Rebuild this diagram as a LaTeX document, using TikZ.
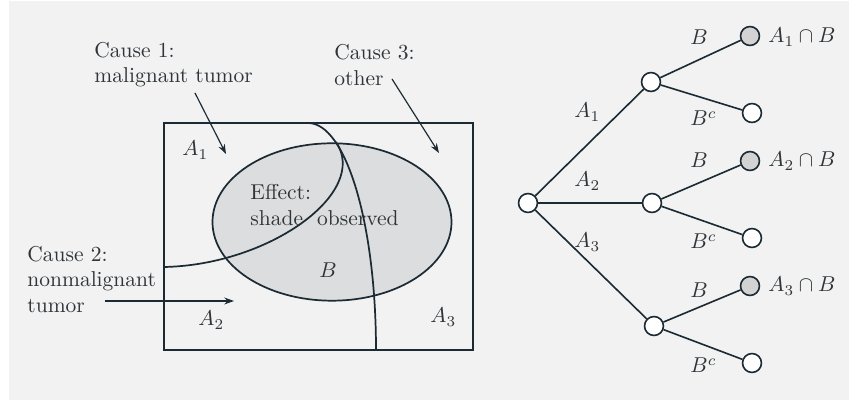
\documentclass[tikz,border=0pt]{standalone}
\usetikzlibrary{arrows.meta}
\definecolor{bgc}{HTML}{F2F2F2}
\definecolor{ink}{HTML}{1B2A33}
\definecolor{txt}{HTML}{2E3438}
\definecolor{shadeB}{HTML}{DCDDDF}
\definecolor{leafB}{HTML}{D3D3D3}
\begin{document}
\begin{tikzpicture}[x=0.465pt,y=-0.465pt,
  lbl/.style={anchor=base west,inner sep=0pt,text=txt,font=\normalsize},
  bound/.style={draw=ink,line width=0.8pt},
  pointer/.style={draw=ink,line width=0.55pt,-{Stealth[length=4.5pt,width=3.2pt]}},
  tnode/.style={circle,draw=ink,line width=0.75pt,fill=white,minimum size=8.8pt,inner sep=0pt},
  bnode/.style={tnode,fill=leafB},
  branch/.style={draw=ink,line width=0.75pt}]
\useasboundingbox (0,0) rectangle (849,400);
\fill[white] (0,0) rectangle (849,400);
\fill[bgc] (9,1) rectangle (849,400);
% Venn-type diagram
\fill[shadeB] (332,222) ellipse [x radius=119.5, y radius=78.7];
\draw[bound] (332,222) ellipse [x radius=119.5, y radius=78.7];
\draw[bound] (164,123) rectangle (473,350);
\draw[bound] (308,123) .. controls (346,123) and (376,224) .. (376,350);
\draw[bound] (164,267) .. controls (270,265) and (370,192) .. (336,142);
% labels
\node[lbl] (c1a) at (94,58) {Cause 1:};
\node[lbl] (c1b) at (94,83) {malignant tumor};
\node[lbl] (c3a) at (334,60) {Cause 3:};
\node[lbl] (c3b) at (334,86) {other};
\node[lbl] (c2a) at (27,262) {Cause 2:};
\node[lbl] (c2b) at (27,287) {nonmalignant};
\node[lbl] (c2c) at (27,313) {tumor};
\node[lbl] (ef1) at (250,200) {Effect:};
\node[lbl] (ef2) at (250,226) {shade\hspace{6.5pt}observed};
\node[lbl] (a1) at (182,156) {$A_1$};
\node[lbl] (a2) at (198,326) {$A_2$};
\node[lbl] (a3) at (430,323) {$A_3$};
\node[lbl] (bb) at (319,278) {$B$};
% pointers
\coordinate (p1s) at (195,93);
\coordinate (p1e) at (226,154);
\coordinate (p3s) at (392,79);
\coordinate (p3e) at (439,153);
\coordinate (p2s) at (105,301);
\coordinate (p2e) at (234,301);
\draw[pointer] (p1s) -- (p1e);
\draw[pointer] (p3s) -- (p3e);
\draw[pointer] (p2s) -- (p2e);
% tree
\node[tnode] (r) at (528,203) {};
\node[tnode] (m1) at (651,82) {};
\node[tnode] (m2) at (652,203) {};
\node[tnode] (m3) at (654,326) {};
\node[bnode] (l1) at (750,36) {};
\node[tnode] (l2) at (752,113) {};
\node[bnode] (l3) at (750,161) {};
\node[tnode] (l4) at (752,238) {};
\node[bnode] (l5) at (750,286) {};
\node[tnode] (l6) at (752,363) {};
\draw[branch] (r) -- (m1);
\draw[branch] (r) -- (m2);
\draw[branch] (r) -- (m3);
\draw[branch] (m1) -- (l1);
\draw[branch] (m1) -- (l2);
\draw[branch] (m2) -- (l3);
\draw[branch] (m2) -- (l4);
\draw[branch] (m3) -- (l5);
\draw[branch] (m3) -- (l6);
\node[lbl] (ta1) at (574,118) {$A_1$};
\node[lbl] (ta2) at (574,187) {$A_2$};
\node[lbl] (ta3) at (574,248) {$A_3$};
\node[lbl] (tb1) at (690,45) {$B$};
\node[lbl] (tb2) at (690,168) {$B$};
\node[lbl] (tb3) at (690,298) {$B$};
\node[lbl] (tc1) at (690,126) {$B^c$};
\node[lbl] (tc2) at (690,249) {$B^c$};
\node[lbl] (tc3) at (690,373) {$B^c$};
\node[lbl] (i1) at (768,43) {$A_1\cap B$};
\node[lbl] (i2) at (768,167) {$A_2\cap B$};
\node[lbl] (i3) at (768,292) {$A_3\cap B$};
\end{tikzpicture}
\end{document}
